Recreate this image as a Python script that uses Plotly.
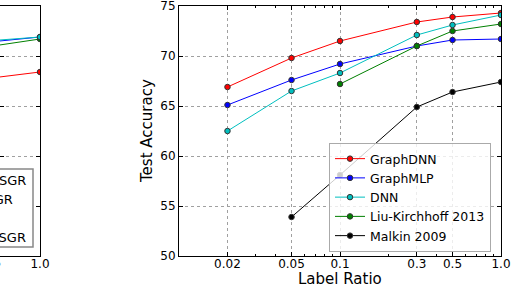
import math
import plotly.graph_objects as go

# ---- data ----
label_ratio = [0.02, 0.05, 0.1, 0.3, 0.5, 1.0]
tick_text = ["0.02", "0.05", "0.1", "0.3", "0.5", "1.0"]
graphdnn = [66.9, 69.8, 71.5, 73.4, 73.9, 74.3]
graphmlp = [65.1, 67.6, 69.2, 71.0, 71.6, 71.7]
dnn = [62.5, 66.5, 68.3, 72.1, 73.1, 74.1]
liu = [None, None, 67.2, 71.0, 72.5, 73.2]
malkin = [None, 53.9, 58.1, 64.9, 66.4, 67.4]

# partially visible left panel
left_ratio = [0.5, 1.0]
left_red = [67.8, 68.4]
left_blue = [71.42, 71.9]
left_cyan = [71.54, 71.9]
left_green = [70.98, 71.7]

W, H = 512, 288
ML, MR, MT, MB = 0, 11, 6, 32
PW = W - ML - MR
PH = H - MT - MB

def px(x):
    return (x - ML) / PW

def py(y):
    return (H - MB - y) / PH

FONT = "DejaVu Sans"
series = [
    ("GraphDNN", graphdnn, "#FF0000"),
    ("GraphMLP", graphmlp, "#0000FF"),
    ("DNN", dnn, "#00BFBF"),
    ("Liu-Kirchhoff 2013", liu, "#008000"),
    ("Malkin 2009", malkin, "#000000"),
]

fig = go.Figure()
for name, vals, col in series:
    fig.add_trace(go.Scatter(
        x=label_ratio, y=vals, name=name, mode="lines+markers",
        line=dict(color=col, width=1),
        marker=dict(symbol="circle", size=5.5, color=col,
                    line=dict(color="#333333", width=1)),
        connectgaps=False, xaxis="x", yaxis="y",
    ))

for vals, col in [(left_red, "#FF0000"), (left_green, "#008000"),
                  (left_blue, "#0000FF"), (left_cyan, "#00BFBF")]:
    fig.add_trace(go.Scatter(
        x=left_ratio, y=vals, mode="lines+markers", showlegend=False,
        line=dict(color=col, width=1),
        marker=dict(symbol="circle", size=5.5, color=col,
                    line=dict(color="#333333", width=1)),
        xaxis="x2", yaxis="y2",
    ))

axis_common = dict(
    showline=True, linecolor="black", linewidth=1, mirror="ticks",
    ticks="inside", ticklen=4, tickcolor="black",
    showgrid=True, gridcolor="#a0a0a0", griddash="dot", gridwidth=1,
    zeroline=False, automargin=False, ticklabeloverflow="allow",
    tickfont=dict(family=FONT, size=12, color="black"),
)

fig.update_layout(
    width=W, height=H,
    margin=dict(l=ML, r=MR, t=MT, b=MB, autoexpand=False),
    paper_bgcolor="white", plot_bgcolor="white",
    font=dict(family=FONT, color="black"),
    xaxis=dict(
        type="log", range=[-2, 0], domain=[px(179), 1.0], anchor="y",
        tickvals=label_ratio, ticktext=tick_text, ticklabelstandoff=-3,
        minor=dict(ticks="inside", ticklen=2, tickcolor="black",
                   tickvals=[0.03, 0.04, 0.06, 0.07, 0.08, 0.09,
                             0.2, 0.4, 0.6, 0.7, 0.8, 0.9],
                   showgrid=False),
        **axis_common,
    ),
    yaxis=dict(
        range=[50, 75], anchor="x", domain=[0, 1],
        tickvals=[50, 55, 60, 65, 70, 75],
        **axis_common,
    ),
    xaxis2=dict(
        type="log", range=[math.log10(0.565), 0], domain=[0, px(40)], anchor="y2",
        tickvals=[1.0], ticktext=["1.0"], ticklabelstandoff=-3,
        **axis_common,
    ),
    yaxis2=dict(
        range=[50, 75], anchor="x2", domain=[0, 1],
        tickvals=[50, 55, 60, 65, 70, 75], showticklabels=False,
        **axis_common,
    ),
    legend=dict(
        x=px(329), y=py(252), xanchor="left", yanchor="bottom",
        bgcolor="rgba(255,255,255,0.8)", bordercolor="#aaaaaa", borderwidth=1,
        font=dict(family=FONT, size=12.5, color="black"),
        itemwidth=30, tracegroupgap=0,
    ),
    showlegend=True,
)

# axis titles
fig.add_annotation(x=px(340), y=py(279), xref="paper", yref="paper",
                   text="Label Ratio", showarrow=False, xanchor="center", yanchor="middle",
                   font=dict(family=FONT, size=15, color="black"))
fig.add_annotation(x=px(147), y=py(131), xref="paper", yref="paper",
                   text="Test Accuracy", showarrow=False, xanchor="center", yanchor="middle",
                   textangle=-90, font=dict(family=FONT, size=15, color="black"))

# partially visible legend of the left panel (cut by the picture edge)
fig.add_shape(type="rect", xref="paper", yref="paper",
              x0=px(-60), x1=px(33), y0=py(247), y1=py(169),
              line=dict(color="#888888", width=1.5), fillcolor="white", layer="above")
for txt, xr, yc in [("GraphDNN-SGR", 28, 180), ("DNN-GR", 14.5, 199),
                    ("DNN", -8, 218), ("GraphMLP-SGR", 28, 237)]:
    fig.add_annotation(x=px(xr), y=py(yc), xref="paper", yref="paper",
                       text=txt, showarrow=False, xanchor="right", yanchor="middle",
                       font=dict(family=FONT, size=13, color="black"))
fig.add_annotation(x=px(-9), y=py(263), xref="paper", yref="paper",
                   text="0.5", showarrow=False, xanchor="center", yanchor="middle",
                   font=dict(family=FONT, size=12, color="black"))

fig.write_html("out.html",
               config={"displayModeBar": False},
               post_script="document.body.style.margin='0';document.body.style.overflow='hidden';")
